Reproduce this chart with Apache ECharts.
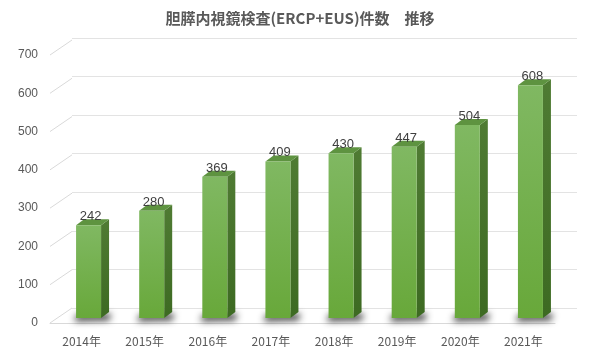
<!DOCTYPE html>
<html>
<head>
<meta charset="utf-8">
<script src="https://cdn.jsdelivr.net/npm/echarts@6/dist/echarts.min.js"></script>
<style>
  html, body { margin: 0; padding: 0; background: #fff; }
  #main { width: 600px; height: 353px; }
</style>
</head>
<body>
<div id="main"></div>
<script>
const years = ["2014年", "2015年", "2016年", "2017年", "2018年", "2019年", "2020年", "2021年"];
const counts = [242, 280, 369, 409, 430, 447, 504, 608];
const yTicks = [0, 100, 200, 300, 400, 500, 600, 700];

// 3D look (pixels)
const WALL_DX = 22, WALL_DY = -15;   // back wall offset from front plane
const BAR_DX = 7, BAR_DY = -5;       // bar front face offset
const DEPTH_DX = 8, DEPTH_DY = -6;   // bar depth
const BAR_W = 25;
const FAR = 2000; // shadow caster is drawn off-canvas, only its blur shows

var chart = echarts.init(document.getElementById("main"));

const renderBar = function (params, api) {
  const idx = api.value(0);
  const top = api.coord([idx, api.value(1)]);
  const base = api.coord([idx, 0]);
  const x0 = top[0] + BAR_DX - BAR_W / 2;
  const x1 = x0 + BAR_W;
  const yt = top[1] + BAR_DY;
  const yb = base[1] + BAR_DY;
  return {
    type: "group",
    children: [
      {
        type: "polygon",
        shape: {
          points: [
            [x0 + 1 - FAR, yb - 3],
            [x1 + 10 - FAR, yb - 4],
            [x1 + 8 - FAR, yb + 2],
            [x0 - 2 - FAR, yb + 3],
          ],
        },
        style: {
          fill: "#000",
          shadowColor: "rgba(0,0,0,0.85)",
          shadowBlur: 7,
          shadowOffsetX: FAR,
          shadowOffsetY: 0,
        },
      },
      {
        type: "polygon",
        shape: { points: [[x1, yt], [x1 + DEPTH_DX, yt + DEPTH_DY], [x1 + DEPTH_DX, yb + DEPTH_DY], [x1, yb]] },
        style: {
          fill: new echarts.graphic.LinearGradient(0, 0, 0, 1, [
            { offset: 0, color: "#4f7b33" },
            { offset: 1, color: "#3d6a22" },
          ]),
        },
      },
      {
        type: "polygon",
        shape: { points: [[x0, yt], [x0 + DEPTH_DX, yt + DEPTH_DY], [x1 + DEPTH_DX, yt + DEPTH_DY], [x1, yt]] },
        style: { fill: "#5e9340" },
      },
      {
        type: "rect",
        shape: { x: x0, y: yt, width: BAR_W, height: yb - yt },
        style: {
          fill: new echarts.graphic.LinearGradient(0, 0, 0, 1, [
            { offset: 0, color: "#80b862" },
            { offset: 1, color: "#68a83a" },
          ]),
        },
      },
      {
        type: "text",
        style: {
          text: String(api.value(1)),
          x: (x0 + x1) / 2 + 2,
          y: yt - 2,
          align: "center",
          verticalAlign: "bottom",
          fill: "#404040",
          font: "13px 'Liberation Sans', Arial, sans-serif",
        },
      },
    ],
  };
};

const renderDiag = function (params, api) {
  const p = api.coord([0, api.value(0)]);
  const half = api.size([1, 0])[0] / 2;
  const x = p[0] - half;
  return {
    type: "line",
    shape: { x1: x, y1: p[1], x2: x + WALL_DX, y2: p[1] + WALL_DY },
    style: { stroke: "#d9d9d9", lineWidth: 1 },
  };
};

var option = {
  animation: false,
  title: {
    text: "胆膵内視鏡検査(ERCP+EUS)件数　推移",
    left: "center",
    top: 6,
    textStyle: {
      fontFamily: "'Noto Sans CJK JP', sans-serif",
      fontSize: 15,
      fontWeight: "bold",
      color: "#595959",
    },
  },
  grid: [
    { left: 50, right: 45, top: 55, bottom: 30 },
    { left: 72, right: 23, top: 38, bottom: 45 },
  ],
  xAxis: [
    {
      type: "category",
      gridIndex: 0,
      data: years,
      axisLine: { lineStyle: { color: "#d9d9d9" } },
      axisTick: { show: false },
      axisLabel: { color: "#595959", fontSize: 12, margin: 12, fontFamily: "'Noto Sans CJK JP', sans-serif" },
    },
    { type: "category", gridIndex: 1, data: years, show: false },
  ],
  yAxis: [
    {
      type: "value",
      gridIndex: 0,
      min: 0,
      max: 700,
      interval: 100,
      axisLine: { show: false },
      axisTick: { show: false },
      splitLine: { show: false },
      axisLabel: { color: "#595959", fontSize: 12, margin: 12, fontFamily: "'Liberation Sans', Arial, sans-serif" },
    },
    {
      type: "value",
      gridIndex: 1,
      min: 0,
      max: 700,
      interval: 100,
      axisLine: { show: false },
      axisTick: { show: false },
      axisLabel: { show: false },
      splitLine: { lineStyle: { color: "#e3e3e3" } },
    },
  ],
  series: [
    {
      type: "custom",
      xAxisIndex: 0,
      yAxisIndex: 0,
      clip: false,
      silent: true,
      renderItem: renderDiag,
      data: yTicks.map((v) => [v]),
      encode: { y: 0 },
      z: 1,
    },
    {
      type: "custom",
      xAxisIndex: 0,
      yAxisIndex: 0,
      clip: false,
      renderItem: renderBar,
      data: counts.map((v, i) => [i, v]),
      encode: { x: 0, y: 1 },
      z: 3,
    },
  ],
};

option && chart.setOption(option);
</script>
</body>
</html>
